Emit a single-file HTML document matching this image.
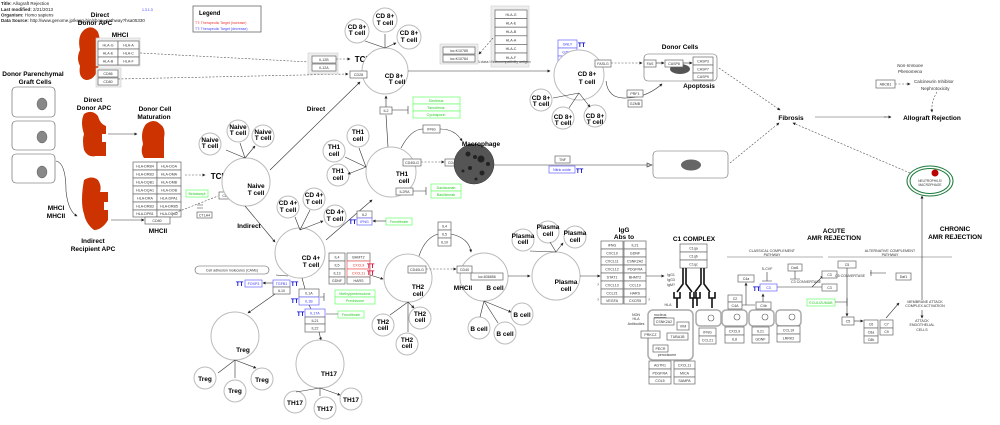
<!DOCTYPE html>
<html><head><meta charset="utf-8"><style>
html,body{margin:0;padding:0;background:#fff}
svg{display:block}
text{font-family:"Liberation Sans","DejaVu Sans",sans-serif}
.t{font-size:3.6px;fill:#333;text-anchor:middle}
.b{font-size:8px;font-weight:bold;fill:#000;text-anchor:middle}
.c{font-size:6.5px;font-weight:bold;fill:#000;text-anchor:middle}
.g{font-size:3.6px;fill:#2c2;text-anchor:middle}
.bl{font-size:3.6px;fill:#33f;text-anchor:middle}
.rd{font-size:3.6px;fill:#d33;text-anchor:middle}
.tt{font-size:6px;font-weight:bold;fill:#00c}
.ttr{font-size:6px;font-weight:bold;fill:#c03}
rect.x{fill:#fff;stroke:#666;stroke-width:.7}
rect.gr{fill:#fff;stroke:#6f6;stroke-width:.7}
rect.bx{fill:#fff;stroke:#66f;stroke-width:.7}
rect.rx{fill:#fff;stroke:#e55;stroke-width:.7}
circle.cl{fill:#fff;stroke:#bbb;stroke-width:1}
.l{stroke:#333;stroke-width:.6;fill:none}
.d{stroke:#555;stroke-width:.6;fill:none;stroke-dasharray:2 1.5}
.blob{fill:#cc3300}
</style></head><body>
<svg width="1000" height="425" viewBox="0 0 1000 425" xmlns="http://www.w3.org/2000/svg">
<defs><marker id="a" viewBox="0 0 6 6" refX="5" refY="3" markerWidth="5" markerHeight="5" orient="auto"><path d="M0,0L6,3L0,6z" fill="#222"/></marker></defs>

<!-- header -->
<g style="font-size:4.5px" fill="#222">
<text x="1" y="5"><tspan font-weight="bold">Title:</tspan> Allograft Rejection</text>
<text x="1" y="11"><tspan font-weight="bold">Last modified:</tspan> 2/21/2013</text>
<text x="1" y="16.5"><tspan font-weight="bold">Organism:</tspan> Homo sapiens</text>
<text x="1" y="22"><tspan font-weight="bold">Data Source:</tspan> http://www.genome.jp/kegg-bin/show_pathway?hsa05330</text>
<text x="142" y="11" fill="#33f" font-size="3.5">1.3.1.3</text>
</g>
<rect x="193" y="6" width="68" height="26" fill="#fff" stroke="#666" stroke-width=".8"/>
<text x="199" y="15" style="font-size:6px;font-weight:bold">Legend</text>
<text x="195" y="24" style="font-size:3.5px" fill="#e33">TT: Therapeutic Target (increase)</text>
<text x="195" y="30" style="font-size:3.5px" fill="#44f">TT: Therapeutic Target (decrease)</text>

<!-- Direct donor APC 1 -->
<text class="c" x="100" y="17">Direct</text><text class="c" x="95" y="25">Donor APC</text>
<path class="blob" d="M84,30q8,-6 14,2q3,8 0,14q4,10 0,22q-3,12 -12,12q-8,-2 -6,-14q-4,-8 0,-16q-3,-14 4,-20z"/>
<text class="c" x="120" y="37">MHCI</text>
<rect x="96" y="38" width="44" height="28" fill="#eee" stroke="#ccc" stroke-width=".6"/>
<rect x="96" y="68" width="25" height="19" fill="#eee" stroke="#ccc" stroke-width=".6"/>
<g>
<rect class="x" x="98" y="41" width="20" height="8"/><text class="t" x="108" y="46.5">HLA-G</text>
<rect class="x" x="118" y="41" width="21" height="8"/><text class="t" x="128.5" y="46.5">HLA-A</text>
<rect class="x" x="98" y="49" width="20" height="8"/><text class="t" x="108" y="54.5">HLA-E</text>
<rect class="x" x="118" y="49" width="21" height="8"/><text class="t" x="128.5" y="54.5">HLA-C</text>
<rect class="x" x="98" y="57" width="20" height="8"/><text class="t" x="108" y="62.5">HLA-B</text>
<rect class="x" x="118" y="57" width="21" height="8"/><text class="t" x="128.5" y="62.5">HLA-F</text>
<rect class="x" x="98" y="70" width="20" height="7"/><text class="t" x="108" y="75">CD86</text>
<rect class="x" x="98" y="78" width="20" height="7"/><text class="t" x="108" y="83">CD80</text>
</g>
<path class="d" d="M140,53L310,62"/><path class="d" d="M118,79L348,74" marker-end="url(#a)"/>

<!-- parenchymal -->
<text class="c" x="33" y="76">Donor Parenchymal</text><text class="c" x="35" y="84">Graft Cells</text>
<rect x="12" y="87" width="43" height="30" rx="4" fill="#fff" stroke="#555" stroke-width=".6"/><ellipse cx="42" cy="104" rx="5" ry="6" fill="#888" stroke="#444" stroke-width=".4"/>
<rect x="12" y="121" width="43" height="29" rx="4" fill="#fff" stroke="#555" stroke-width=".6"/><ellipse cx="42" cy="137" rx="5" ry="6" fill="#888" stroke="#444" stroke-width=".4"/>
<rect x="12" y="154" width="43" height="29" rx="4" fill="#fff" stroke="#555" stroke-width=".6"/><ellipse cx="42" cy="172" rx="5" ry="6" fill="#888" stroke="#444" stroke-width=".4"/>
<path class="l" d="M56,161q10,2 10,30q2,20 11,25" marker-end="url(#a)"/>

<!-- direct APC 2 -->
<text class="c" x="93" y="102">Direct</text><text class="c" x="94" y="110">Donor APC</text>
<path class="blob" d="M84,114q8,-5 14,2q2,8 8,10v8h-4v8h4v14h-10q-8,2 -12,-6q-2,-10 0,-16q-4,-12 0,-20z"/>
<path class="l" d="M108,134H137" marker-end="url(#a)"/>
<text class="c" x="155" y="111">Donor Cell</text><text class="c" x="154" y="119">Maturation</text>
<path class="blob" d="M146,124q8,-6 14,0q6,4 4,14v20h-20q-4,-6 -1,-14q-3,-12 3,-20z"/>
<g>
<rect class="x" x="133" y="162" width="24" height="8"/><text class="t" x="145" y="167.5">HLA-DRB4</text>
<rect class="x" x="157" y="162" width="24" height="8"/><text class="t" x="169" y="167.5">HLA-DOA</text>
<rect class="x" x="133" y="170" width="24" height="8"/><text class="t" x="145" y="175.5">HLA-DRB3</text>
<rect class="x" x="157" y="170" width="24" height="8"/><text class="t" x="169" y="175.5">HLA-DMA</text>
<rect class="x" x="133" y="178" width="24" height="8"/><text class="t" x="145" y="183.5">HLA-DQB1</text>
<rect class="x" x="157" y="178" width="24" height="8"/><text class="t" x="169" y="183.5">HLA-DMB</text>
<rect class="x" x="133" y="186" width="24" height="8"/><text class="t" x="145" y="191.5">HLA-DQA1</text>
<rect class="x" x="157" y="186" width="24" height="8"/><text class="t" x="169" y="191.5">HLA-DOB</text>
<rect class="x" x="133" y="194" width="24" height="8"/><text class="t" x="145" y="199.5">HLA-DRA</text>
<rect class="x" x="157" y="194" width="24" height="8"/><text class="t" x="169" y="199.5">HLA-DPA1</text>
<rect class="x" x="133" y="202" width="24" height="8"/><text class="t" x="145" y="207.5">HLA-DRB3</text>
<rect class="x" x="157" y="202" width="24" height="8"/><text class="t" x="169" y="207.5">HLA-DRB5</text>
<rect class="x" x="133" y="210" width="24" height="7"/><text class="t" x="145" y="215">HLA-DPB1</text>
<rect class="x" x="157" y="210" width="24" height="7"/><text class="t" x="169" y="215">HLA-DQA2</text>
<rect class="x" x="145" y="217" width="25" height="7"/><text class="t" x="157" y="222">CD80</text>
</g>
<text class="c" x="158" y="233">MHCII</text>
<path class="d" d="M185,175H205" marker-end="url(#a)"/><text class="b" x="219" y="179">TCR</text>

<!-- indirect APC -->
<path class="blob" d="M84,180q8,-5 14,0q4,6 2,12h8v10h-4v8h4v10q-6,10 -14,10q-8,-6 -10,-16q-4,-12 0,-34z"/>
<path class="l" d="M111,220H144" marker-end="url(#a)"/>
<text class="c" x="56" y="210">MHCI</text><text class="c" x="56" y="218">MHCII</text>
<text class="c" x="93" y="243">Indirect</text><text class="c" x="93" y="251">Recipient APC</text>
<rect class="gr" x="186" y="190" width="22" height="7"/><text class="g" x="197" y="195">Belatacept</text>
<rect class="x" x="219" y="192" width="16" height="7"/><text class="t" x="227" y="197">CD28</text>
<path class="d" d="M172,214L218,196"/>
<path class="l" d="M197,205l6,0M197,208l6,0"/>
<rect class="x" x="197" y="212" width="15" height="6"/><text class="t" x="204.5" y="216.5">CTLA4</text>

<!-- Naive T -->
<circle class="cl" cx="246" cy="182" r="24"/><text class="c" x="256" y="188">Naive</text><text class="c" x="256" y="195">T cell</text>
<circle class="cl" cx="210" cy="144" r="11"/><text class="c" x="210" y="142">Naive</text><text class="c" x="210" y="148">T cell</text>
<circle class="cl" cx="238" cy="131" r="11"/><text class="c" x="238" y="129">Naive</text><text class="c" x="238" y="135">T cell</text>
<circle class="cl" cx="263" cy="136" r="11"/><text class="c" x="263" y="134">Naive</text><text class="c" x="263" y="140">T cell</text>
<path class="l" d="M245,158L226,150M245,158L240,143M245,158L255,146" marker-end="url(#a)"/>
<path class="l" d="M270,170L360,82" marker-end="url(#a)"/><text class="c" x="316" y="111">Direct</text>
<path class="l" d="M245,206L275,242" marker-end="url(#a)"/><text class="c" x="249" y="228">Indirect</text>

<!-- CD8 top -->
<rect x="308" y="53" width="30" height="21" fill="#eee" stroke="#ccc" stroke-width=".6"/>
<rect class="x" x="312" y="56" width="24" height="7"/><text class="t" x="324" y="61">IL12B</text>
<rect class="x" x="312" y="64" width="24" height="7"/><text class="t" x="324" y="69">IL12A</text>
<path class="d" d="M336,59H350" marker-end="url(#a)"/><text class="b" x="363" y="62">TCR</text>
<circle class="cl" cx="385" cy="71" r="23"/><text class="c" x="394" y="78">CD 8+</text><text class="c" x="397" y="84">T cell</text>
<rect class="x" x="350" y="71" width="17" height="7"/><text class="t" x="358.5" y="76">CD28</text>
<circle class="cl" cx="357" cy="31" r="12"/><text class="c" x="357" y="29">CD 8+</text><text class="c" x="357" y="35">T cell</text>
<circle class="cl" cx="385" cy="20" r="12"/><text class="c" x="385" y="18">CD 8+</text><text class="c" x="385" y="25">T cell</text>
<circle class="cl" cx="409" cy="37" r="12"/><text class="c" x="409" y="35">CD 8+</text><text class="c" x="409" y="42">T cell</text>
<path class="l" d="M385,48L365,41M385,48L385,34M385,48L396,43" marker-end="url(#a)"/>
<path class="l" d="M408,71H550" marker-end="url(#a)"/>
<rect class="x" x="380" y="107" width="12" height="7"/><text class="t" x="386" y="112">IL2</text>
<path class="l" d="M386,107V96" marker-end="url(#a)"/><path class="l" d="M392,110H408M408,106v8" stroke="#999"/>
<rect class="gr" x="413" y="97" width="47" height="7"/><text class="g" x="436" y="102">Sirolimus</text>
<rect class="gr" x="413" y="104" width="47" height="7"/><text class="g" x="436" y="109">Tacrolimus</text>
<rect class="gr" x="413" y="111" width="47" height="7"/><text class="g" x="436" y="116">Cyclosporin</text>
<path class="l" d="M388,147L386,115"/>

<!-- HLA class I right -->
<rect x="491" y="6" width="38" height="61" fill="#eee" stroke="#ccc" stroke-width=".6"/>
<g>
<rect class="x" x="495" y="10" width="32" height="8.6"/><text class="t" x="511" y="15.8">HLA-G</text>
<rect class="x" x="495" y="18.6" width="32" height="8.6"/><text class="t" x="511" y="24.4">HLA-E</text>
<rect class="x" x="495" y="27.2" width="32" height="8.6"/><text class="t" x="511" y="33">HLA-B</text>
<rect class="x" x="495" y="35.8" width="32" height="8.6"/><text class="t" x="511" y="41.6">HLA-A</text>
<rect class="x" x="495" y="44.4" width="32" height="8.6"/><text class="t" x="511" y="50.2">HLA-C</text>
<rect class="x" x="495" y="53" width="32" height="8.6"/><text class="t" x="511" y="58.8">HLA-F</text>
</g>
<text x="473" y="63" style="font-size:3.5px" fill="#444">HLA class I histocompatibility antigen</text>
<rect x="440" y="44" width="38" height="20" fill="#eee" stroke="#ccc" stroke-width=".6"/>
<rect class="x" x="443" y="47" width="32" height="7"/><text class="t" x="459" y="52">loc:K10785</text>
<rect class="x" x="443" y="55" width="32" height="7"/><text class="t" x="459" y="60">loc:K10784</text>
<path class="d" d="M493,38L479,54" marker-end="url(#a)"/>

<!-- TH1 -->
<circle class="cl" cx="391" cy="172" r="25"/><text class="c" x="402" y="176">TH1</text><text class="c" x="404" y="183">cell</text>
<circle class="cl" cx="358" cy="136" r="11"/><text class="c" x="358" y="134">TH1</text><text class="c" x="358" y="141">cell</text>
<circle class="cl" cx="334" cy="151" r="11"/><text class="c" x="334" y="149">TH1</text><text class="c" x="334" y="156">cell</text>
<circle class="cl" cx="338" cy="175" r="11"/><text class="c" x="338" y="173">TH1</text><text class="c" x="338" y="180">cell</text>
<path class="l" d="M366,167L345,157M366,167L359,148M366,167L348,174" marker-end="url(#a)"/>
<rect class="x" x="423" y="125" width="17" height="8"/><text class="t" x="431.5" y="130.5">IFNG</text>
<path class="l" d="M401,148q10,-19 22,-19M440,129q15,0 22,12" marker-end="url(#a)"/>
<rect class="x" x="403" y="159" width="18" height="7"/><text class="t" x="412" y="164">CD40LG</text>
<path class="d" d="M421,162H444" marker-end="url(#a)"/>
<rect class="x" x="445" y="159" width="15" height="7"/><text class="t" x="452.5" y="164">CD40</text>
<circle cx="474" cy="164" r="20" fill="#555" stroke="#333" stroke-width=".5"/>
<g fill="#222"><circle cx="468" cy="154" r="2.5"/><circle cx="475" cy="157" r="2"/><circle cx="481" cy="159" r="3.5"/><circle cx="470" cy="168" r="2"/><circle cx="482" cy="173" r="2.5"/><circle cx="476" cy="179" r="1.5"/><circle cx="488" cy="164" r="2"/><circle cx="463" cy="171" r="1.5"/></g>
<text class="c" x="481" y="146">Macrophage</text>
<path class="l" d="M494,165H650" stroke="#999" stroke-width="1"/>
<path class="l" d="M652,165l-5,-2v4z" fill="#222"/>
<rect class="x" x="396" y="188" width="17" height="7"/><text class="t" x="404.5" y="193">IL2RA</text>
<path class="l" d="M413,191H426M426,187v8" stroke="#999"/>
<rect class="gr" x="431" y="184" width="30" height="7"/><text class="g" x="446" y="189">Daclizumab</text>
<rect class="gr" x="431" y="191" width="30" height="7"/><text class="g" x="446" y="196">Basiliximab</text>

<!-- CD4 -->
<circle class="cl" cx="300" cy="253" r="25"/><text class="c" x="311" y="260">CD 4+</text><text class="c" x="311" y="267">T cell</text>
<circle class="cl" cx="288" cy="207" r="11"/><text class="c" x="288" y="205">CD 4+</text><text class="c" x="288" y="212">T cell</text>
<circle class="cl" cx="314" cy="199" r="11"/><text class="c" x="314" y="197">CD 4+</text><text class="c" x="314" y="204">T cell</text>
<circle class="cl" cx="335" cy="216" r="11"/><text class="c" x="335" y="214">CD 4+</text><text class="c" x="335" y="221">T cell</text>
<path class="l" d="M300,230L295,217M300,230L310,210M300,230L323,221" marker-end="url(#a)"/>
<path class="l" d="M326,240L372,200" marker-end="url(#a)"/>
<rect class="x" x="357" y="211" width="15" height="7"/><text class="t" x="364.5" y="216">IL2</text>
<rect class="bx" x="357" y="218" width="15" height="7"/><text class="bl" x="364.5" y="223">IFNG</text>
<text class="tt" x="349" y="224">TT</text>
<rect class="gr" x="386" y="218" width="26" height="7"/><text class="g" x="399" y="223">Fenofibrate</text>
<path class="l" d="M386,221H373" marker-end="url(#a)"/>
<g>
<rect class="x" x="329" y="253" width="16" height="8"/><text class="t" x="337" y="258.5">IL4</text>
<rect class="x" x="329" y="261" width="16" height="8"/><text class="t" x="337" y="266.5">IL5</text>
<rect class="x" x="329" y="269" width="16" height="8"/><text class="t" x="337" y="274.5">IL13</text>
<rect class="x" x="329" y="277" width="16" height="7"/><text class="t" x="337" y="282">GDNF</text>
<rect class="x" x="347" y="253" width="23" height="8"/><text class="t" x="358.5" y="258.5">BHMT2</text>
<rect class="rx" x="347" y="261" width="23" height="8"/><text class="rd" x="358.5" y="266.5">CXCL9</text>
<rect class="rx" x="347" y="269" width="23" height="8"/><text class="rd" x="358.5" y="274.5">CXCL11</text>
<rect class="x" x="347" y="277" width="23" height="7"/><text class="t" x="358.5" y="282">HARS</text>
</g>
<text class="ttr" x="367" y="268">TT</text><text class="ttr" x="367" y="275">TT</text>
<path class="l" d="M370,275L383,279" marker-end="url(#a)"/>
<rect x="195" y="266" width="74" height="8" rx="4" fill="#fff" stroke="#555" stroke-width=".6"/><text class="t" x="232" y="271.5">Cell adhesion molecules (CAMs)</text>
<rect class="bx" x="245" y="280" width="17" height="7"/><text class="bl" x="253.5" y="285">FOXP3</text><text class="tt" x="236" y="286">TT</text>
<path class="l" d="M273,283H263" marker-end="url(#a)"/>
<rect class="bx" x="273" y="280" width="17" height="7"/><text class="bl" x="281.5" y="285">TGFB1</text><text class="tt" x="291" y="286">TT</text>
<rect class="x" x="273" y="287" width="17" height="7"/><text class="t" x="281.5" y="292">IL10</text>
<path class="l" d="M288,276L276,275M275,294L248,313" marker-end="url(#a)"/>
<path class="l" d="M302,278L305,289"/>
<rect class="x" x="299" y="289" width="20" height="8"/><text class="t" x="309" y="294.5">IL1A</text>
<rect class="bx" x="299" y="297" width="20" height="8"/><text class="bl" x="309" y="302.5">IL1B</text><text class="tt" x="291" y="303">TT</text>
<path class="l" d="M320,297H324M324,293v8" stroke="#999"/>
<rect class="gr" x="335" y="290" width="40" height="7"/><text class="g" x="355" y="295">Methylprednisolone</text>
<rect class="gr" x="335" y="297" width="40" height="7"/><text class="g" x="355" y="302">Prednisone</text>
<path class="l" d="M309,305L311,309"/>
<rect class="bx" x="305" y="309" width="20" height="8"/><text class="bl" x="315" y="314.5">IL17A</text><text class="tt" x="297" y="316">TT</text>
<rect class="x" x="305" y="317" width="20" height="7"/><text class="t" x="315" y="322">IL21</text>
<rect class="x" x="305" y="324" width="20" height="8"/><text class="t" x="315" y="329.5">IL22</text>
<rect class="gr" x="338" y="311" width="26" height="7"/><text class="g" x="351" y="316">Fenofibrate</text>
<path class="l" d="M338,314H326M319,332L321,340" marker-end="url(#a)"/>

<!-- Treg -->
<circle class="cl" cx="235" cy="336" r="24"/><text class="c" x="243" y="352">Treg</text>
<circle class="cl" cx="205" cy="378" r="11"/><text class="c" x="205" y="381">Treg</text>
<circle class="cl" cx="235" cy="391" r="11"/><text class="c" x="235" y="393">Treg</text>
<circle class="cl" cx="262" cy="379" r="11"/><text class="c" x="262" y="382">Treg</text>
<path class="l" d="M235,360L218,373M235,360L235,378M235,360L256,368" marker-end="url(#a)"/>
<!-- TH17 -->
<circle class="cl" cx="320" cy="364" r="24"/><text class="c" x="329" y="376">TH17</text>
<circle class="cl" cx="295" cy="402" r="11"/><text class="c" x="295" y="405">TH17</text>
<circle class="cl" cx="325" cy="408" r="11"/><text class="c" x="325" y="411">TH17</text>
<circle class="cl" cx="351" cy="399" r="11"/><text class="c" x="351" y="402">TH17</text>
<path class="l" d="M320,388L296,392M320,388L320,396M320,388L340,395" marker-end="url(#a)"/>

<!-- TH2 -->
<circle class="cl" cx="408" cy="278" r="24"/><text class="c" x="418" y="289">TH2</text><text class="c" x="418" y="296">cell</text>
<circle class="cl" cx="383" cy="325" r="11"/><text class="c" x="383" y="324">TH2</text><text class="c" x="383" y="330">cell</text>
<circle class="cl" cx="420" cy="318" r="11"/><text class="c" x="420" y="316">TH2</text><text class="c" x="420" y="322">cell</text>
<circle class="cl" cx="407" cy="344" r="11"/><text class="c" x="407" y="342">TH2</text><text class="c" x="407" y="348">cell</text>
<path class="l" d="M408,302L390,315M408,302L408,332M408,302L414,308" marker-end="url(#a)"/>
<rect class="x" x="438" y="222" width="13" height="8"/><text class="t" x="444.5" y="227.5">IL4</text>
<rect class="x" x="438" y="230" width="13" height="8"/><text class="t" x="444.5" y="235.5">IL5</text>
<rect class="x" x="438" y="238" width="13" height="8"/><text class="t" x="444.5" y="243.5">IL10</text>
<path class="l" d="M419,256q6,-18 19,-22M451,234q18,4 20,18" marker-end="url(#a)"/>
<rect class="x" x="408" y="266" width="18" height="7"/><text class="t" x="417" y="271">CD40LG</text>
<path class="d" d="M426,269H456" marker-end="url(#a)"/>
<circle class="cl" cx="484" cy="277" r="24"/>
<rect class="x" x="457" y="266" width="15" height="7"/><text class="t" x="464.5" y="271">CD40</text>
<rect class="x" x="471" y="273" width="32" height="7"/><text class="t" x="487" y="278">loc:836856</text>
<text class="c" x="463" y="290">MHCII</text><text class="c" x="495" y="290">B cell</text>
<circle class="cl" cx="479" cy="328" r="11"/><text class="c" x="479" y="331">B cell</text>
<circle class="cl" cx="522" cy="314" r="11"/><text class="c" x="522" y="317">B cell</text>
<circle class="cl" cx="505" cy="333" r="11"/><text class="c" x="505" y="336">B cell</text>
<path class="l" d="M484,301L480,317M484,301L498,323M484,301L511,312" marker-end="url(#a)"/>
<path class="l" d="M508,276L530,276" marker-end="url(#a)"/>

<!-- Plasma -->
<circle class="cl" cx="556" cy="276" r="24"/><text class="c" x="566" y="284">Plasma</text><text class="c" x="566" y="291">cell</text>
<circle class="cl" cx="523" cy="240" r="11"/><text class="c" x="523" y="238">Plasma</text><text class="c" x="523" y="244">cell</text>
<circle class="cl" cx="548" cy="232" r="11"/><text class="c" x="548" y="229">Plasma</text><text class="c" x="548" y="236">cell</text>
<circle class="cl" cx="575" cy="237" r="11"/><text class="c" x="575" y="235">Plasma</text><text class="c" x="575" y="242">cell</text>
<path class="l" d="M556,252L530,251M556,252L550,242M556,252L563,243" marker-end="url(#a)"/>
<path class="l" d="M580,276H600" marker-end="url(#a)"/>
<text class="c" x="624" y="232">IgG</text><text class="c" x="624" y="239">Abs to</text>
<g>
<rect class="x" x="601" y="241" width="22" height="8"/><text class="t" x="612" y="246.5">IFNG</text>
<rect class="x" x="601" y="249" width="22" height="8"/><text class="t" x="612" y="254.5">CXCL9</text>
<rect class="x" x="601" y="257" width="22" height="8"/><text class="t" x="612" y="262.5">CXCL11</text>
<rect class="x" x="601" y="265" width="22" height="8"/><text class="t" x="612" y="270.5">CXCL12</text>
<rect class="x" x="601" y="273" width="22" height="8"/><text class="t" x="612" y="278.5">STAT1</text>
<rect class="x" x="601" y="281" width="22" height="8"/><text class="t" x="612" y="286.5">CXCL13</text>
<rect class="x" x="601" y="289" width="22" height="8"/><text class="t" x="612" y="294.5">CCL21</text>
<rect class="x" x="601" y="297" width="22" height="7"/><text class="t" x="612" y="302">VEGFA</text>
<rect class="x" x="624" y="241" width="22" height="8"/><text class="t" x="635" y="246.5">IL21</text>
<rect class="x" x="624" y="249" width="22" height="8"/><text class="t" x="635" y="254.5">GDNF</text>
<rect class="x" x="624" y="257" width="22" height="8"/><text class="t" x="635" y="262.5">CSNK2A2</text>
<rect class="x" x="624" y="265" width="22" height="8"/><text class="t" x="635" y="270.5">PDGFRA</text>
<rect class="x" x="624" y="273" width="22" height="8"/><text class="t" x="635" y="278.5">BHMT2</text>
<rect class="x" x="624" y="281" width="22" height="8"/><text class="t" x="635" y="286.5">CCL19</text>
<rect class="x" x="624" y="289" width="22" height="8"/><text class="t" x="635" y="294.5">HARS</text>
<rect class="x" x="624" y="297" width="22" height="7"/><text class="t" x="635" y="302">CXCR5</text>
</g>
<text class="t" x="598" y="286">?</text><text class="t" x="598" y="301">?</text><text class="t" x="649" y="301">?</text>
<path class="l" d="M646,276H664" marker-end="url(#a)"/>
<text class="t" x="671" y="276">IgG1</text><text class="t" x="671" y="281">IgG3</text><text class="t" x="671" y="286">IgM?</text>

<!-- C1 complex -->
<text class="c" x="694" y="241">C1 COMPLEX</text>
<rect class="x" x="680" y="244" width="27" height="8"/><text class="t" x="693.5" y="249.5">C1qa</text>
<rect class="x" x="680" y="252" width="27" height="8"/><text class="t" x="693.5" y="257.5">C1qb</text>
<rect class="x" x="680" y="260" width="27" height="8"/><text class="t" x="693.5" y="265.5">C1qc</text>
<g stroke="#111" stroke-width="1.6" fill="none">
<path d="M683,268v16l-6,8M686,268v16l6,8M701,268v16l-6,8M704,268v16l6,8"/>
<path d="M674,292v6h6v-6M690,292v6h6v-6M694,292v6h6v-6M709,292v6h6v-6"/>
<path d="M677,298v10M693,298v10M697,298v8M712,298v10"/>
</g>
<text class="t" x="668" y="306">HLA</text>
<text class="t" x="636" y="316">NON</text><text class="t" x="636" y="320">HLA</text><text class="t" x="636" y="325">Antibodies</text>
<rect x="648" y="310" width="45" height="50" rx="5" fill="#fff" stroke="#aaa" stroke-width="1.5"/>
<text x="654" y="316" style="font-size:3.6px" fill="#333" text-decoration="underline">nucleus</text>
<rect class="x" x="654" y="318" width="20" height="7"/><text class="t" x="664" y="323">CSNK2A2</text>
<rect class="x" x="677" y="322" width="12" height="8"/><text class="t" x="683" y="327.5">VIM</text>
<rect class="x" x="641" y="331" width="19" height="7"/><text class="t" x="650.5" y="336">PRKCZ</text>
<rect class="x" x="667" y="333" width="21" height="7"/><text class="t" x="677.5" y="338">TUBA1B</text>
<rect class="x" x="653" y="345" width="15" height="7"/><text class="t" x="660.5" y="350">PECR</text>
<text class="t" x="667" y="356">peroxisome</text>
<rect class="x" x="649" y="361" width="22" height="8"/><text class="t" x="660" y="366.5">AGTR1</text>
<rect class="x" x="649" y="369" width="22" height="8"/><text class="t" x="660" y="374.5">PDGFRA</text>
<rect class="x" x="649" y="377" width="22" height="7"/><text class="t" x="660" y="382">COL5</text>
<rect class="x" x="674" y="361" width="21" height="8"/><text class="t" x="684.5" y="366.5">CXCL11</text>
<rect class="x" x="674" y="369" width="21" height="8"/><text class="t" x="684.5" y="374.5">MICA</text>
<rect class="x" x="674" y="377" width="21" height="7"/><text class="t" x="684.5" y="382">SAMPA</text>
<g fill="#fff" stroke="#aaa" stroke-width="1.5">
<rect x="696" y="310" width="25" height="16" rx="4"/><rect x="722" y="310" width="25" height="16" rx="4"/><rect x="749" y="310" width="25" height="16" rx="4"/><rect x="776" y="310" width="25" height="16" rx="4"/>
</g>
<g fill="none" stroke="#555" stroke-width=".6"><circle cx="711" cy="318" r="3"/><circle cx="737" cy="317" r="3"/><circle cx="765" cy="317" r="3"/><circle cx="792" cy="317" r="3"/></g>
<rect class="x" x="699" y="328" width="17" height="8"/><text class="t" x="707.5" y="333.5">IFNG</text>
<rect class="x" x="699" y="336" width="17" height="8"/><text class="t" x="707.5" y="341.5">CCL21</text>
<rect class="x" x="725" y="327" width="19" height="8"/><text class="t" x="734.5" y="332.5">CXCL9</text>
<rect class="x" x="725" y="335" width="19" height="8"/><text class="t" x="734.5" y="340.5">IL8</text>
<rect class="x" x="752" y="327" width="17" height="8"/><text class="t" x="760.5" y="332.5">IL21</text>
<rect class="x" x="752" y="335" width="17" height="8"/><text class="t" x="760.5" y="340.5">GDNF</text>
<rect class="x" x="777" y="326" width="23" height="8"/><text class="t" x="788.5" y="331.5">CCL19</text>
<rect class="x" x="777" y="334" width="23" height="8"/><text class="t" x="788.5" y="339.5">LRRK2</text>

<!-- complement -->
<text class="c" x="834" y="233">ACUTE</text><text class="c" x="834" y="240">AMR REJECTION</text>
<text class="c" x="955" y="231">CHRONIC</text><text class="c" x="955" y="239">AMR REJECTION</text>
<text class="t" x="772" y="252">CLASSICAL COMPLEMENT</text><text class="t" x="772" y="256">PATHWAY</text>
<path d="M727,257H823M828,257H952" stroke="#999" stroke-width=".8"/>
<text class="t" x="890" y="252">ALTERNATIVE COMPLEMENT</text><text class="t" x="890" y="256">PATHWAY</text>
<rect class="x" x="728" y="295" width="14" height="7"/><text class="t" x="735" y="300">C2</text>
<rect class="x" x="728" y="302" width="14" height="7"/><text class="t" x="735" y="307">C4A</text>
<rect class="x" x="738" y="275" width="16" height="7"/><text class="t" x="746" y="280">C4a</text>
<path class="l" d="M742,305H755M746,305V283" marker-end="url(#a)"/>
<rect class="x" x="756" y="302" width="15" height="7"/><text class="t" x="763.5" y="307">C4b</text>
<path class="l" d="M763,302V294" marker-end="url(#a)"/>
<text class="tt" x="753" y="291">TT</text>
<rect class="bx" x="760" y="284" width="17" height="7"/><text class="bl" x="768.5" y="289">C3</text>
<text class="t" x="767" y="270">S-CVF</text><path class="l" d="M767,272V281M762,281h10"/>
<rect class="x" x="788" y="264" width="14" height="7"/><text class="t" x="795" y="269">Daf1</text>
<path class="l" d="M795,271V279M790,279h10"/>
<text class="t" x="806" y="283">C3 CONVERTASE</text>
<path class="l" d="M777,287H822M812,287L823,276" marker-end="url(#a)"/>
<rect class="x" x="822" y="271" width="15" height="7"/><text class="t" x="829.5" y="276">C3</text>
<rect class="x" x="822" y="284" width="15" height="7"/><text class="t" x="829.5" y="289">C3</text>
<rect class="x" x="838" y="261" width="18" height="7"/><text class="t" x="847" y="266">C5</text>
<text class="t" x="850" y="277">C5 CONVERTASE</text><path class="l" d="M870,273h16M871,270v6"/>
<rect class="x" x="896" y="273" width="15" height="7"/><text class="t" x="903.5" y="278">Daf1</text>
<path class="l" d="M847,268V316" marker-end="url(#a)"/>
<rect class="gr" x="807" y="299" width="28" height="7"/><text class="g" x="821" y="304">ECULIZUMAB</text>
<path class="l" d="M835,302H847M847,298v8"/>
<rect class="x" x="842" y="317" width="12" height="8"/><text class="t" x="848" y="322.5">C5</text>
<path class="l" d="M854,321H863" marker-end="url(#a)"/>
<rect class="x" x="864" y="320" width="14" height="8"/><text class="t" x="871" y="325.5">C6</text>
<rect class="x" x="864" y="328" width="14" height="8"/><text class="t" x="871" y="333.5">C8a</text>
<rect class="x" x="864" y="336" width="14" height="7"/><text class="t" x="871" y="341">C8b</text>
<rect class="x" x="880" y="320" width="13" height="8"/><text class="t" x="886.5" y="325.5">C7</text>
<rect class="x" x="880" y="328" width="13" height="7"/><text class="t" x="886.5" y="333">C9</text>
<path class="l" d="M886,318L899,303" marker-end="url(#a)"/>
<text class="t" x="925" y="303">MEMBRANE ATTACK</text><text class="t" x="925" y="307">COMPLEX ACTIVATION</text>
<path class="l" d="M922,310V318" marker-end="url(#a)"/>
<text class="t" x="922" y="322">ATTACK</text><text class="t" x="922" y="326">ENDOTHELIAL</text><text class="t" x="922" y="331">CELLS</text>
<path class="l" d="M922,300V196" marker-end="url(#a)"/>

<!-- right upper -->
<rect class="bx" x="558" y="40" width="19" height="8"/><text class="bl" x="567.5" y="45.5">GNLY</text>
<rect class="bx" x="558" y="48" width="19" height="8"/><text class="bl" x="567.5" y="53.5">GZMB</text>
<rect class="bx" x="558" y="56" width="19" height="8"/><text class="bl" x="567.5" y="61.5">PRF1</text>
<text class="tt" x="578" y="47">TT</text><text class="tt" x="578" y="55">TT</text><text class="tt" x="578" y="63">TT</text>
<circle class="cl" cx="579" cy="75" r="25"/><text class="c" x="587" y="76">CD 8+</text><text class="c" x="587" y="84">T cell</text>
<rect class="x" x="595" y="60" width="16" height="7"/><text class="t" x="603" y="65">FASLG</text>
<path class="d" d="M611,63H642" marker-end="url(#a)"/>
<circle class="cl" cx="541" cy="100" r="11"/><text class="c" x="541" y="100">CD 8+</text><text class="c" x="541" y="106">T cell</text>
<circle class="cl" cx="563" cy="118" r="11"/><text class="c" x="563" y="119">CD 8+</text><text class="c" x="563" y="125">T cell</text>
<circle class="cl" cx="595" cy="116" r="11"/><text class="c" x="595" y="118">CD 8+</text><text class="c" x="595" y="124">T cell</text>
<path class="l" d="M579,93L553,98M579,93L569,108M579,93L590,107" marker-end="url(#a)"/>
<path class="l" d="M606,81q2,18 20,17q20,0 36,-14" marker-end="url(#a)"/>
<rect class="x" x="627" y="90" width="16" height="7"/><text class="t" x="635" y="95">PRF1</text>
<rect class="x" x="628" y="100" width="14" height="7"/><text class="t" x="635" y="105">GZMB</text>
<text class="c" x="680" y="49">Donor Cells</text>
<rect x="644" y="54" width="73" height="27" rx="4" fill="#fff" stroke="#666" stroke-width=".6"/>
<ellipse cx="680" cy="69" rx="10" ry="5" fill="#555"/>
<rect class="x" x="644" y="60" width="12" height="7"/><text class="t" x="650" y="65">FAS</text>
<path class="l" d="M656,63H664" marker-end="url(#a)"/>
<rect class="x" x="665" y="60" width="18" height="7"/><text class="t" x="674" y="65">CASP8</text>
<path class="l" d="M683,63H692" marker-end="url(#a)"/>
<rect class="x" x="693" y="57" width="20" height="8"/><text class="t" x="703" y="62.5">CASP3</text>
<rect class="x" x="693" y="65" width="20" height="8"/><text class="t" x="703" y="70.5">CASP7</text>
<rect class="x" x="693" y="73" width="20" height="7"/><text class="t" x="703" y="78">CASP9</text>
<text class="c" x="699" y="88">Apoptosis</text>
<path class="d" d="M719,68L780,110" marker-end="url(#a)"/>
<text class="c" x="791" y="120">Fibrosis</text>
<path d="M815,117H886" stroke="#aaa" stroke-width="1"/><path class="l" d="M884,117H891" marker-end="url(#a)"/>
<text class="c" x="932" y="120">Allograft Rejection</text>
<text x="910" y="67" style="font-size:4.5px;font-style:italic" fill="#333" text-anchor="middle">Non-Immune</text>
<text x="910" y="73" style="font-size:4.5px;font-style:italic" fill="#333" text-anchor="middle">Phenomena</text>
<rect class="x" x="876" y="80" width="19" height="8"/><text class="t" x="885.5" y="85.5">ABCB1</text>
<path class="d" d="M895,84H910" marker-end="url(#a)"/>
<text x="914" y="83" style="font-size:4.5px" fill="#333">Calcineurin Inhibitor</text>
<text x="921" y="90" style="font-size:4.5px" fill="#333">Nephrotoxicity</text>
<path class="d" d="M937,92q-6,10 -5,20" marker-end="url(#a)"/>
<rect class="x" x="555" y="156" width="15" height="7"/><text class="t" x="562.5" y="161">TNF</text>
<rect class="bx" x="549" y="166" width="26" height="7"/><text class="bl" x="562" y="171">Nitric oxide</text><text class="tt" x="576" y="173">TT</text>
<rect x="653" y="151" width="75" height="27" rx="4" fill="#fff" stroke="#666" stroke-width=".6"/>
<ellipse cx="691" cy="165" rx="10" ry="5.5" fill="#666"/>
<path class="d" d="M730,163L779,123" marker-end="url(#a)"/>
<path class="d" d="M910,173L793,123" marker-end="url(#a)"/>
<ellipse cx="930" cy="181" rx="23" ry="15" fill="#fff" stroke="#1a7a3a" stroke-width="1"/>
<ellipse cx="930" cy="181" rx="20" ry="12.5" fill="none" stroke="#1a7a3a" stroke-width="1"/>
<circle cx="935" cy="173" r="3.5" fill="#b00"/>
<text class="t" x="930" y="182" style="font-size:3.2px">NEUTROPHILS/</text><text class="t" x="930" y="186" style="font-size:3.2px">MACROPHAGE</text>
</svg>
</body></html>
